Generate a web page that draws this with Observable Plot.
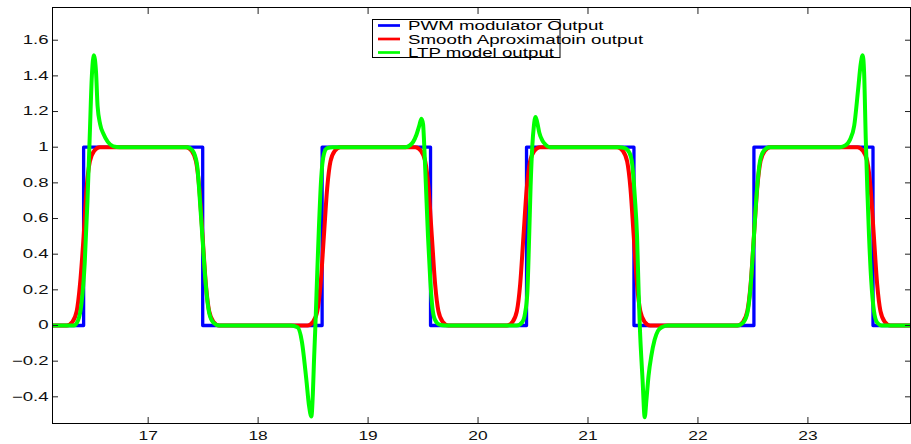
<!DOCTYPE html>
<html>
<head>
<meta charset="utf-8">
<script src="https://cdn.jsdelivr.net/npm/d3@7"></script>
<script src="https://cdn.jsdelivr.net/npm/@observablehq/plot@0.6"></script>
<style>
  html, body { margin: 0; padding: 0; background: #fff; }
  #chart { width: 911px; height: 444px; }
</style>
</head>
<body>
<div id="chart"></div>
<script>
// ---- axes ----
const xTicks = [17, 18, 19, 20, 21, 22, 23];
const yTicks = [-0.4, -0.2, 0, 0.2, 0.4, 0.6, 0.8, 1, 1.2, 1.4, 1.6];
const xDomain = [16.13, 23.933];
const yDomain = [-0.5496, 1.7835];

// ---- legend ----
const seriesNames = ["PWM modulator Output", "Smooth Aproximatoin output", "LTP model output"];
const seriesColors = ["#0000ff", "#ff0000", "#00ff00"];

// ---- PWM modulator output (square wave, value holds until next time) ----
const pwmT = [16.13, 16.413, 17.496, 18.582, 19.568, 20.441, 21.418, 22.509, 23.592, 23.933];
const pwmV = [0, 1, 0, 1, 0, 1, 0, 1, 0, 0];

// ---- Smooth approximation output ----
const smoothT = [16.13,
  16.26, 16.31, 16.35, 16.38, 16.413, 16.44, 16.47, 16.51, 16.56,
  17.345, 17.395, 17.435, 17.465, 17.495, 17.525, 17.555, 17.595, 17.645,
  18.448, 18.498, 18.538, 18.568, 18.598, 18.628, 18.658, 18.698, 18.748,
  19.43, 19.48, 19.52, 19.55, 19.58, 19.61, 19.64, 19.68, 19.73,
  20.263, 20.313, 20.353, 20.383, 20.413, 20.443, 20.473, 20.513, 20.563,
  21.266, 21.316, 21.356, 21.386, 21.416, 21.446, 21.476, 21.516, 21.566,
  22.359, 22.409, 22.449, 22.479, 22.509, 22.539, 22.569, 22.609, 22.659,
  23.45, 23.50, 23.54, 23.57, 23.60, 23.63, 23.66, 23.70, 23.75,
  23.933];
const smoothV = [0,
  0, 0.02, 0.08, 0.23, 0.5, 0.77, 0.92, 0.98, 1,
  1, 0.98, 0.92, 0.77, 0.5, 0.23, 0.08, 0.02, 0,
  0, 0.02, 0.08, 0.23, 0.5, 0.77, 0.92, 0.98, 1,
  1, 0.98, 0.92, 0.77, 0.5, 0.23, 0.08, 0.02, 0,
  0, 0.02, 0.08, 0.23, 0.5, 0.77, 0.92, 0.98, 1,
  1, 0.98, 0.92, 0.77, 0.5, 0.23, 0.08, 0.02, 0,
  0, 0.02, 0.08, 0.23, 0.5, 0.77, 0.92, 0.98, 1,
  1, 0.98, 0.92, 0.77, 0.5, 0.23, 0.08, 0.02, 0,
  0];

// ---- LTP model output ----
const ltpT = [16.13,
  16.323, 16.363, 16.393, 16.423, 16.448, 16.468, 16.488, 16.506, 16.526, 16.54, 16.563, 16.593, 16.633, 16.683, 16.743,
  17.355, 17.405, 17.445, 17.465, 17.495, 17.525, 17.555, 17.595, 17.645,
  18.298, 18.358, 18.398, 18.438, 18.463, 18.484, 18.498, 18.508, 18.521, 18.538, 18.553, 18.573, 18.598, 18.628, 18.678,
  19.34, 19.38, 19.41, 19.44, 19.465, 19.485, 19.50, 19.51, 19.525, 19.545, 19.565, 19.585, 19.61, 19.65, 19.70,
  20.353, 20.403, 20.428, 20.448, 20.465, 20.478, 20.493, 20.508, 20.523, 20.538, 20.558, 20.583, 20.613, 20.653,
  21.286, 21.336, 21.376, 21.401, 21.426, 21.446, 21.461, 21.471, 21.496, 21.516, 21.531, 21.551, 21.576, 21.606, 21.636, 21.676, 21.726,
  22.359, 22.409, 22.449, 22.479, 22.509, 22.539, 22.564, 22.599, 22.649,
  23.291, 23.341, 23.381, 23.421, 23.456, 23.481, 23.498, 23.511, 23.526, 23.541, 23.556, 23.576, 23.601, 23.631, 23.671,
  23.933];
const ltpV = [0,
  0, 0.03, 0.12, 0.35, 0.7, 1.05, 1.4, 1.516, 1.42, 1.23, 1.13, 1.075, 1.03, 1.005, 1,
  1, 0.98, 0.9, 0.75, 0.48, 0.22, 0.07, 0.015, 0,
  0, -0.01, -0.09, -0.3, -0.45, -0.51, -0.38, -0.2, 0, 0.3, 0.55, 0.82, 0.96, 0.995, 1,
  1, 1.01, 1.03, 1.07, 1.12, 1.16, 1.13, 1.02, 0.8, 0.5, 0.26, 0.1, 0.03, 0.005, 0,
  0, 0.02, 0.07, 0.18, 0.5, 0.78, 1.0, 1.12, 1.17, 1.14, 1.08, 1.04, 1.015, 1,
  1, 0.995, 0.97, 0.91, 0.72, 0.5, 0.18, 0, -0.3, -0.515, -0.42, -0.28, -0.17, -0.08, -0.03, -0.008, 0,
  0, 0.015, 0.07, 0.22, 0.5, 0.78, 0.92, 0.98, 1,
  1, 1.01, 1.04, 1.12, 1.32, 1.47, 1.516, 1.42, 1.05, 0.75, 0.5, 0.25, 0.08, 0.015, 0,
  0];

const toRows = (T, V) => T.map((t, i) => ({t, v: V[i]}));
const pwm = toRows(pwmT, pwmV);
const smooth = toRows(smoothT, smoothV);
const ltp = toRows(ltpT, ltpV);

const FONT = "'Liberation Sans', Arial, Helvetica, sans-serif";
const fmt = d => (d < 0 ? "\u2212" : "") + String(Math.abs(d));

const chart = Plot.plot({
  width: 911,
  height: 444,
  marginLeft: 52,
  marginRight: 1,
  marginTop: 7,
  marginBottom: 21,
  style: {fontFamily: FONT, fontSize: "12px", color: "#111", background: "#fff"},
  x: {domain: xDomain, ticks: xTicks},
  y: {domain: yDomain, ticks: yTicks},
  marks: [
    Plot.line(pwm, {x: "t", y: "v", stroke: seriesColors[0], strokeWidth: 3.3, curve: "step-after", clip: true}),
    Plot.line(smooth, {x: "t", y: "v", stroke: seriesColors[1], strokeWidth: 4, curve: "monotone-x", clip: true}),
    Plot.line(ltp, {x: "t", y: "v", stroke: seriesColors[2], strokeWidth: 4, curve: "monotone-x", clip: true}),
    // inward tick marks on all four sides
    Plot.axisX(xTicks, {anchor: "bottom", tickSize: 6, dy: -6, fill: "none", stroke: "#222", label: null}),
    Plot.axisX(xTicks, {anchor: "top", tickSize: 6, dy: 6, fill: "none", stroke: "#222", label: null}),
    Plot.axisY(yTicks, {anchor: "left", tickSize: 6, dx: 6, fill: "none", stroke: "#222", label: null}),
    Plot.axisY(yTicks, {anchor: "right", tickSize: 6, dx: -6, fill: "none", stroke: "#222", label: null}),
    // tick labels
    Plot.axisX(xTicks, {anchor: "bottom", tickSize: 0, tickPadding: 8, label: null, tickFormat: fmt}),
    Plot.axisY(yTicks, {anchor: "left", tickSize: 0, tickPadding: 4, label: null, tickFormat: fmt}),
    Plot.frame({stroke: "#000", strokeWidth: 1})
  ]
});

document.getElementById("chart").appendChild(chart);

// The reference renders its Helvetica text noticeably wide: stretch labels horizontally about their anchor.
function stretch(sel, k) {
  sel.each(function () {
    const t = d3.select(this);
    const tr = t.attr("transform") || "";
    t.attr("transform", `${tr} scale(${k},1)`);
  });
}
const svg = d3.select(chart);
stretch(svg.selectAll('g[aria-label="x-axis tick label"] text'), 1.45);
stretch(svg.selectAll('g[aria-label="y-axis tick label"] text'), 1.55);

// ---- legend box inside the axes (MATLAB style) ----
const lg = svg.append("g")
  .attr("font-family", FONT).attr("font-size", 13)
  .attr("fill", "#000").attr("text-anchor", "start");
lg.append("rect")
  .attr("x", 372.5).attr("y", 19.5).attr("width", 187.5).attr("height", 38)
  .attr("fill", "#fff").attr("stroke", "#000").attr("stroke-width", 1);
seriesNames.forEach((name, i) => {
  const yy = 25.5 + i * 13.5;
  lg.append("line")
    .attr("x1", 378).attr("x2", 400).attr("y1", yy).attr("y2", yy)
    .attr("stroke", seriesColors[i]).attr("stroke-width", 2.7);
  lg.append("text")
    .attr("text-anchor", "start")
    .attr("transform", `translate(408,${yy + 4.5}) scale(1.44,1)`)
    .text(name);
});
</script>
</body>
</html>
